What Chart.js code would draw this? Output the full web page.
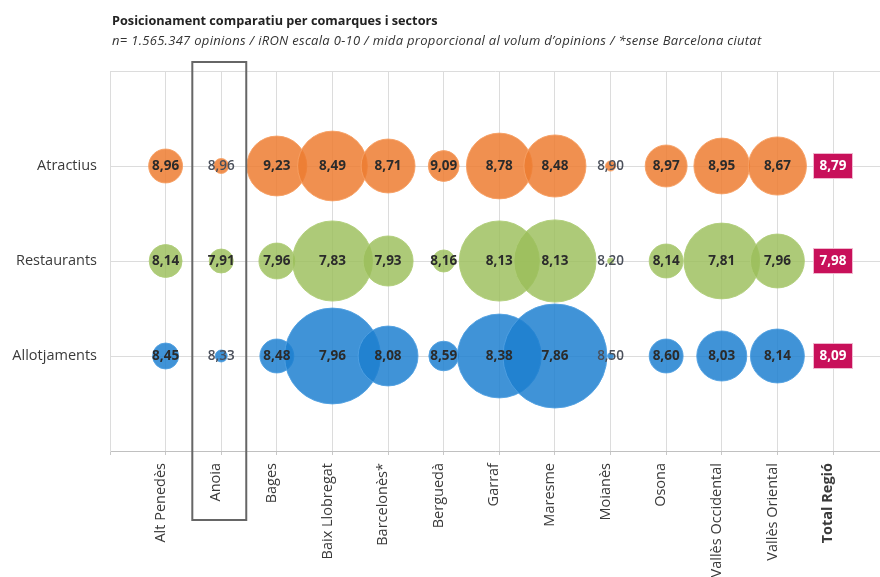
<!DOCTYPE html>
<html>
<head>
<meta charset="utf-8">
<title>Posicionament comparatiu per comarques i sectors</title>
<script src="https://cdn.jsdelivr.net/npm/chart.js@4.4.0/dist/chart.umd.min.js"></script>
<style>
    html, body { margin: 0; padding: 0; background: #fff; }
    .chart-wrap { width: 880px; height: 577px; position: relative; }
    #bubbleChart { width: 880px; height: 577px; }
</style>
</head>
<body>
<div class="chart-wrap"><canvas id="bubbleChart" width="880" height="577"></canvas></div>
<script>
// --- DADES ---
const comarques = ['Alt Penedès', 'Anoia', 'Bages', 'Baix Llobregat', 'Barcelonès*', 'Berguedà',
    'Garraf', 'Maresme', 'Moianès', 'Osona', 'Vallès Occidental', 'Vallès Oriental'];
const totalLabel = 'Total Regió';
const sectors = ['Allotjaments', 'Restaurants', 'Atractius']; // fila 1, 2, 3

// iRON (escala 0-10)
const ironAtractius    = [8.96, 8.96, 9.23, 8.49, 8.71, 9.09, 8.78, 8.48, 8.90, 8.97, 8.95, 8.67];
const ironRestaurants  = [8.14, 7.91, 7.96, 7.83, 7.93, 8.16, 8.13, 8.13, 8.20, 8.14, 7.81, 7.96];
const ironAllotjaments = [8.45, 8.33, 8.48, 7.96, 8.08, 8.59, 8.38, 7.86, 8.50, 8.60, 8.03, 8.14];
const totalRegio = [8.09, 7.98, 8.79]; // allotjaments, restaurants, atractius

// volum d'opinions (milers, estimat)
const volAtractius    = [17, 3.3, 53, 72, 43, 14, 64, 57, 1.5, 26, 46, 50];
const volRestaurants  = [16, 8.5, 19, 95, 37, 7.2, 95, 100, 0.5, 17, 85, 43];
const volAllotjaments = [10, 2.1, 17, 136, 53, 13, 104, 160, 0.5, 17, 37, 43];

const MAX_VOL = 160;
const MAX_R = 52;

function bubbles(iron, vol, row) {
    return iron.map(function(v, i) {
        return { x: i + 1, y: row, r: MAX_R * Math.sqrt(vol[i] / MAX_VOL), v: v };
    });
}

function fmt(v) {
    return v.toFixed(2).replace('.', ',');
}

// Etiquetes de valor, caixes Total Regió, marc d'Anoia i títol
const labelsPlugin = {
    id: 'labelsPlugin',
    afterDraw: function(chart) {
        const ctx = chart.ctx;
        const xs = chart.scales.x;
        const ys = chart.scales.y;
        ctx.save();

        // valors dins de les bombolles
        ctx.textAlign = 'center';
        ctx.textBaseline = 'middle';
        chart.data.datasets.forEach(function(ds, di) {
            const meta = chart.getDatasetMeta(di);
            meta.data.forEach(function(el, i) {
                const p = ds.data[i];
                const small = p.r < 10;
                ctx.font = (small ? '600 ' : 'bold ') + '13.5px "Open Sans"';
                ctx.fillStyle = small ? '#4a4f5a' : '#2b2b2b';
                ctx.fillText(fmt(p.v), el.x, el.y);
            });
        });

        // Total Regió
        totalRegio.forEach(function(v, i) {
            const cx = xs.getPixelForValue(13);
            const cy = ys.getPixelForValue(i + 1);
            ctx.fillStyle = '#c8105a';
            ctx.fillRect(cx - 19, cy - 12, 38, 24);
            ctx.strokeStyle = '#f0b8cf';
            ctx.lineWidth = 1;
            ctx.strokeRect(cx - 19.5, cy - 12.5, 39, 25);
            ctx.fillStyle = '#ffffff';
            ctx.font = 'bold 13.5px "Open Sans"';
            ctx.fillText(fmt(v), cx, cy);
        });

        // marc Anoia
        ctx.strokeStyle = '#666666';
        ctx.lineWidth = 2;
        const x1 = xs.getPixelForValue(1.48);
        const x2 = xs.getPixelForValue(2.45);
        ctx.strokeRect(x1, chart.chartArea.top - 9, x2 - x1, 520 - chart.chartArea.top + 9);

        // títol
        ctx.textAlign = 'left';
        ctx.textBaseline = 'middle';
        ctx.fillStyle = '#222222';
        ctx.font = 'bold 12.7px "Open Sans"';
        ctx.fillText('Posicionament comparatiu per comarques i sectors', 112, 21);
        ctx.fillStyle = '#333333';
        ctx.font = 'italic 13px "Open Sans"';
        ctx.letterSpacing = '0.3px';
        ctx.fillText('n= 1.565.347 opinions / iRON escala 0-10 / mida proporcional al volum d\u2019opinions / *sense Barcelona ciutat', 112, 41);
        ctx.restore();
    }
};

document.addEventListener('DOMContentLoaded', function() {
    const ctx = document.getElementById('bubbleChart');

    new Chart(ctx.getContext('2d'), {
        type: 'bubble',
        data: {
            datasets: [{
                label: 'Atractius',
                data: bubbles(ironAtractius, volAtractius, 3),
                backgroundColor: 'rgba(237, 125, 49, 0.85)',
                borderColor: 'rgba(246, 160, 100, 0.9)',
                borderWidth: 1
            }, {
                label: 'Restaurants',
                data: bubbles(ironRestaurants, volRestaurants, 2),
                backgroundColor: 'rgba(155, 190, 90, 0.82)',
                borderColor: 'rgba(175, 205, 120, 0.9)',
                borderWidth: 1
            }, {
                label: 'Allotjaments',
                data: bubbles(ironAllotjaments, volAllotjaments, 1),
                backgroundColor: 'rgba(30, 128, 208, 0.85)',
                borderColor: 'rgba(80, 160, 225, 0.9)',
                borderWidth: 1
            }]
        },
        options: {
            responsive: false,
            animation: false,
            devicePixelRatio: 1,
            layout: { autoPadding: false, padding: { top: 71, right: 0, bottom: 0, left: 0 } },
            plugins: {
                legend: { display: false },
                tooltip: { enabled: false }
            },
            scales: {
                x: {
                    type: 'linear',
                    min: 0,
                    max: 13.845,
                    afterBuildTicks: function(scale) {
                        const t = [];
                        for (let i = 0; i <= 13; i++) t.push({ value: i });
                        scale.ticks = t;
                    },
                    afterFit: function(scale) {
                        scale.height = 126;
                        scale.paddingLeft = 0;
                        scale.paddingRight = 0;
                    },
                    grid: { color: '#dcdcdc', drawTicks: true, tickLength: 4, tickColor: '#c8c8c8' },
                    border: { color: '#c0c0c0' },
                    ticks: {
                        autoSkip: false,
                        minRotation: 90,
                        maxRotation: 90,
                        padding: 8,
                        labelOffset: -5,
                        color: '#3a3a3a',
                        font: function(c) {
                            const bold = c.tick && c.tick.value === 13;
                            return { family: 'Open Sans', size: 14.5, weight: bold ? 'bold' : 'normal' };
                        },
                        callback: function(v) {
                            if (v >= 1 && v <= 12) return comarques[v - 1];
                            if (v === 13) return totalLabel;
                            return '';
                        }
                    }
                },
                y: {
                    min: 0,
                    max: 4,
                    afterFit: function(scale) {
                        scale.width = 110;
                        scale.paddingTop = 0;
                        scale.paddingBottom = 0;
                    },
                    grid: { color: '#dcdcdc', drawTicks: false },
                    border: { color: '#dcdcdc' },
                    ticks: {
                        stepSize: 1,
                        padding: 13,
                        color: '#3a3a3a',
                        font: { family: 'Open Sans', size: 14.5 },
                        callback: function(v) {
                            return sectors[v - 1] || '';
                        }
                    }
                }
            }
        },
        plugins: [labelsPlugin]
    });
});
</script>
</body>
</html>
